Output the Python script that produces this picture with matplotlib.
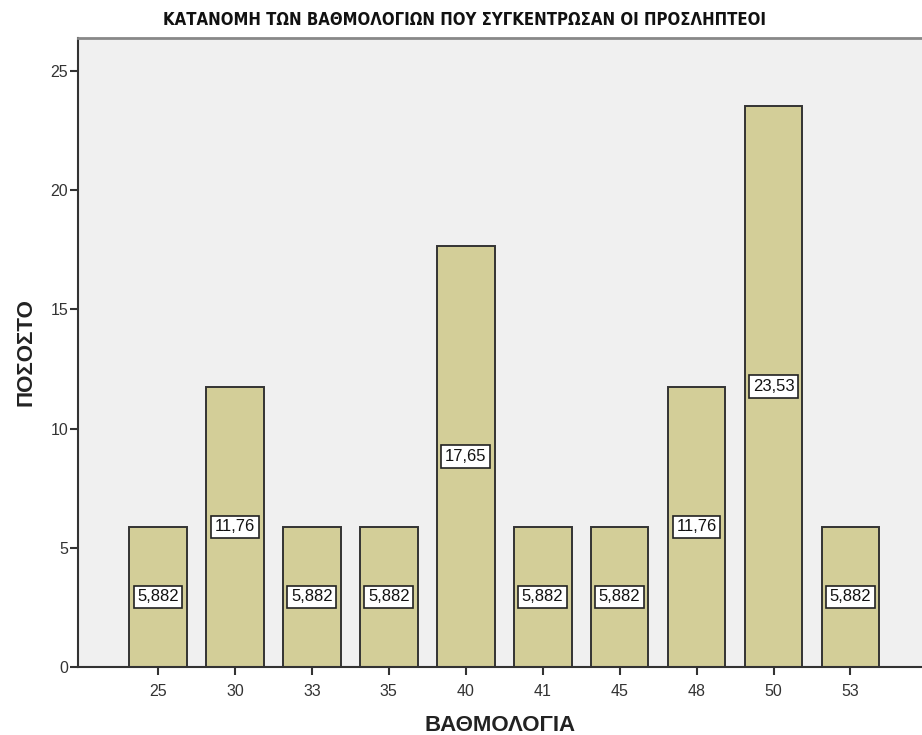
import matplotlib.pyplot as plt

# data
scores = ["25", "30", "33", "35", "40", "41", "45", "48", "50", "53"]
percent = [5.882, 11.76, 5.882, 5.882, 17.65, 5.882, 5.882, 11.76, 23.53, 5.882]
value_labels = ["5,882", "11,76", "5,882", "5,882", "17,65", "5,882", "5,882", "11,76", "23,53", "5,882"]

plt.rcParams['font.family'] = ['Liberation Sans', 'DejaVu Sans']

fig = plt.figure(figsize=(9.22, 7.35), dpi=100)
ax = fig.add_axes([78 / 922, 68 / 735, 1 - 78 / 922, (667 - 38) / 735])
ax.set_facecolor("#F0F0F0")

x = list(range(len(scores)))
ax.bar(x, percent, width=0.75, color="#D3CE98", edgecolor="#333333", linewidth=1.4, zorder=2)

for xi, v, lab in zip(x, percent, value_labels):
    ax.text(xi, v / 2, lab, ha="center", va="center", fontsize=12, color="#111111", zorder=3,
            bbox=dict(boxstyle="square,pad=0.22", facecolor="white", edgecolor="#222222", linewidth=1.2))

ax.set_xlim(-1.04, 9.93)
ax.set_ylim(0, 26.38)
ax.set_xticks(x)
ax.set_xticklabels(scores)
ax.set_yticks([0, 5, 10, 15, 20, 25])

ax.tick_params(axis="both", direction="out", length=6, width=1.5, color="#333333",
               labelsize=11.5, labelcolor="#333333")
ax.tick_params(axis="x", pad=6)
ax.tick_params(axis="y", pad=1)

for side in ["left", "bottom"]:
    ax.spines[side].set_color("#333333")
    ax.spines[side].set_linewidth(1.5)
ax.spines["top"].set_color("#888888")
ax.spines["top"].set_linewidth(2)
ax.spines["right"].set_visible(False)

ax.set_xlabel("ΒΑΘΜΟΛΟΓΙΑ", fontsize=16, fontweight="bold", color="#222222", labelpad=12)
ax.set_ylabel("ΠΟΣΟΣΤΟ", fontsize=16, fontweight="bold", color="#222222", labelpad=10)

fig.text(464 / 922, 1 - 20 / 735, "ΚΑΤΑΝΟΜΗ ΤΩΝ ΒΑΘΜΟΛΟΓΙΩΝ ΠΟΥ ΣΥΓΚΕΝΤΡΩΣΑΝ ΟΙ ΠΡΟΣΛΗΠΤΕΟΙ",
         ha="center", va="center", fontsize=12, fontweight="bold", color="#111111",
         family=["DejaVu Sans"], fontstretch="condensed")

fig.savefig("out.png", dpi=100)
